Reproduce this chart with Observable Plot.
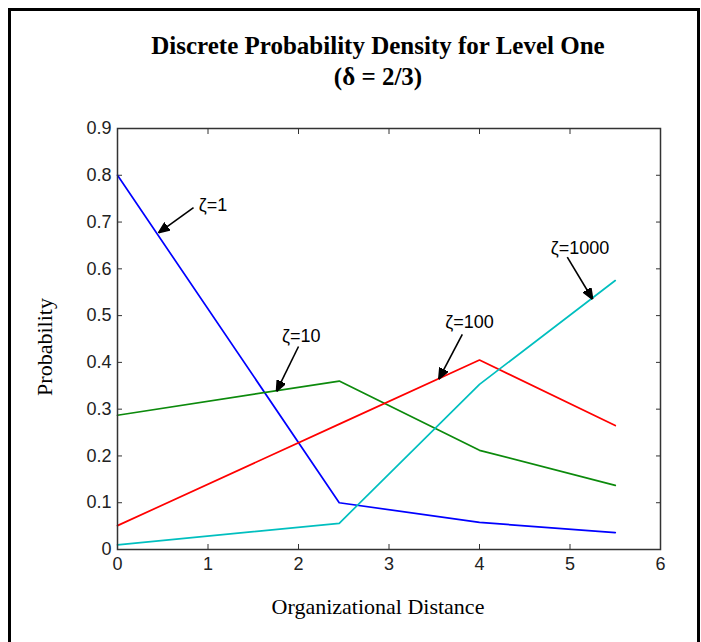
<!DOCTYPE html>
<html><head><meta charset="utf-8">
<script src="https://cdn.jsdelivr.net/npm/d3@7"></script>
<script src="https://cdn.jsdelivr.net/npm/@observablehq/plot@0.6"></script>
<style>
body{margin:0;background:#fff;}
#wrap{position:relative;width:701px;height:642px;overflow:hidden;background:#fff;}
#border{position:absolute;left:8px;top:8px;width:686px;height:700px;border:3px solid #000;pointer-events:none;}
</style></head><body><div id="wrap"><div id="border"></div></div>
<script>
const distance = [0, 2.45, 4, 5.5];
const zeta1 = [0.80, 0.100, 0.058, 0.036];
const zeta10 = [0.287, 0.360, 0.212, 0.137];
const zeta100 = [0.051, 0.268, 0.405, 0.265];
const zeta1000 = [0.010, 0.056, 0.353, 0.575];
const seriesNames = ["ζ=1", "ζ=10", "ζ=100", "ζ=1000"];
const seriesColors = ["#0000ff", "#0c8a0c", "#ff0000", "#00bfbf"];
const xTicks = [0, 1, 2, 3, 4, 5, 6];
const yTicks = [0, 0.1, 0.2, 0.3, 0.4, 0.5, 0.6, 0.7, 0.8, 0.9];
const annLabel = ["ζ=1", "ζ=10", "ζ=100", "ζ=1000"];
const annTextX = [1.055, 2.03, 3.89, 5.11];
const annTextY = [0.735, 0.455, 0.486, 0.645];
const annTailX = [0.84, 2.0, 3.81, 4.97];
const annTailY = [0.731, 0.434, 0.46, 0.625];
const annHeadX = [0.453, 1.757, 3.55, 5.25];
const annHeadY = [0.677, 0.338, 0.364, 0.535];
const titleLines = ["Discrete Probability Density for Level One", "(δ = 2/3)"];
const xLabel = "Organizational Distance";
const yLabel = "Probability";

const allSeries = [zeta1, zeta10, zeta100, zeta1000];
const rows = [];
allSeries.forEach((vals, s) => vals.forEach((v, i) => rows.push({x: distance[i], y: v, series: seriesNames[s]})));
const ann = annLabel.map((t, i) => ({t, tx: annTextX[i], ty: annTextY[i], x1: annTailX[i], y1: annTailY[i], x2: annHeadX[i], y2: annHeadY[i]}));

function filledArrow(color, context) {
  const ns = "http://www.w3.org/2000/svg";
  const m = document.createElementNS(ns, "marker");
  m.setAttribute("viewBox", "-11 -5 11 10");
  m.setAttribute("markerWidth", 11);
  m.setAttribute("markerHeight", 10);
  m.setAttribute("markerUnits", "userSpaceOnUse");
  m.setAttribute("orient", "auto");
  m.setAttribute("refX", 0);
  m.setAttribute("refY", 0);
  const p = document.createElementNS(ns, "path");
  p.setAttribute("d", "M-11,-4.5L0,0L-11,4.5Z");
  p.setAttribute("fill", color);
  m.appendChild(p);
  return m;
}

const tickFont = "'Liberation Sans', Arial, sans-serif";
const serif = "'Liberation Serif', 'Times New Roman', serif";

const chart = Plot.plot({
  width: 701,
  height: 642,
  marginLeft: 117,
  marginRight: 41,
  marginTop: 128,
  marginBottom: 93,
  style: {fontFamily: tickFont, background: "transparent", overflow: "visible"},
  x: {domain: [0, 6]},
  y: {domain: [0, 0.9]},
  color: {domain: seriesNames, range: seriesColors},
  marks: [
    Plot.axisX({ticks: xTicks, tickSize: -5, tickPadding: 13, fontSize: 18, label: null, tickFormat: d => String(d), stroke: "#333", fill: "#222"}),
    Plot.axisX({anchor: "top", ticks: xTicks, tickSize: -5, tickFormat: () => "", label: null, stroke: "#333"}),
    Plot.axisY({ticks: yTicks, tickSize: -5, tickPadding: 11, fontSize: 18, label: null, tickFormat: d => String(d), stroke: "#333", fill: "#222"}),
    Plot.axisY({anchor: "right", ticks: yTicks, tickSize: -5, tickFormat: () => "", label: null, stroke: "#333"}),
    Plot.line(rows, {x: "x", y: "y", z: "series", stroke: "series", strokeWidth: 1.7}),
    Plot.frame({stroke: "#333", strokeWidth: 1.5}),
    Plot.link(ann, {x1: "x1", y1: "y1", x2: "x2", y2: "y2", stroke: "#000", strokeWidth: 1.6, markerEnd: filledArrow}),
    Plot.text(ann, {x: "tx", y: "ty", text: "t", fontSize: 18, fill: "#000"}),
    Plot.text([titleLines[0]], {frameAnchor: "top", lineAnchor: "middle", text: d => d, dx: -11, dy: -83, fontSize: 25, fontWeight: "bold", fontFamily: serif, fill: "#000"}),
    Plot.text([titleLines[1]], {frameAnchor: "top", lineAnchor: "middle", text: d => d, dx: -11, dy: -52, fontSize: 25, fontWeight: "bold", fontFamily: serif, fill: "#000"}),
    Plot.text([xLabel], {frameAnchor: "bottom", lineAnchor: "middle", text: d => d, dx: -11, dy: 57, fontSize: 22, fontFamily: serif, fill: "#000"}),
    Plot.text([yLabel], {frameAnchor: "left", lineAnchor: "middle", textAnchor: "middle", text: d => d, dx: -73, dy: 8, rotate: -90, fontSize: 22, fontFamily: serif, fill: "#000"})
  ]
});
chart.style.position = "absolute";
chart.style.left = "0px";
chart.style.top = "0px";
document.getElementById("wrap").prepend(chart);
</script>
</body></html>
